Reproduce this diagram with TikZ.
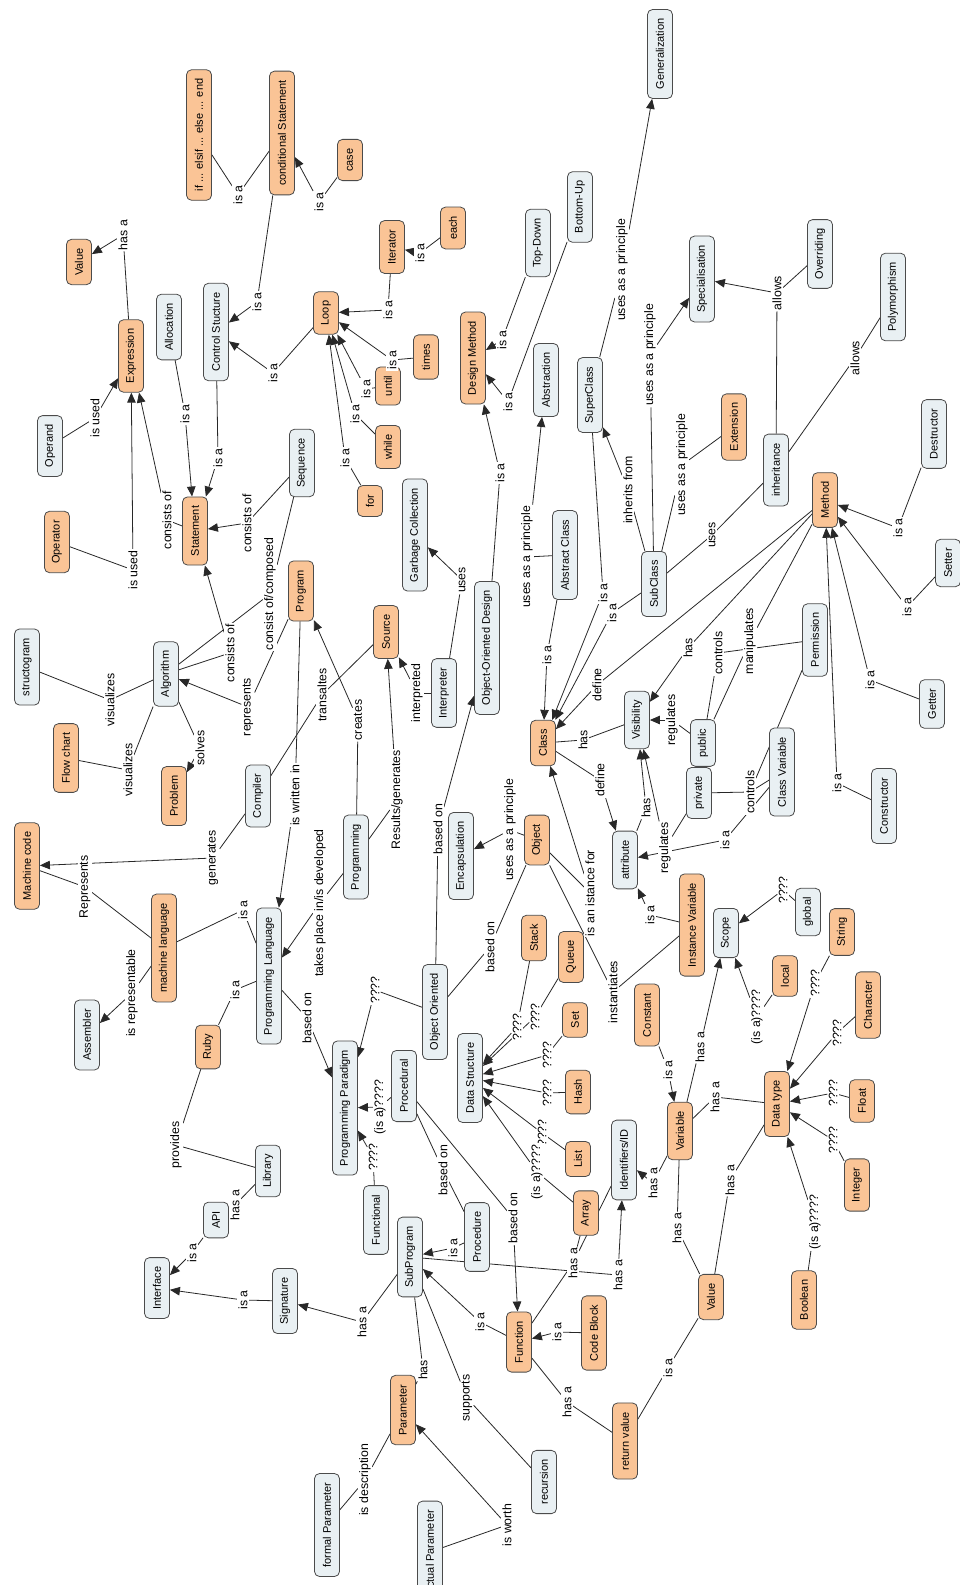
\documentclass[tikz,border=0pt]{standalone}
\usepackage{fontspec}
\setmainfont{Liberation Sans}
\usetikzlibrary{arrows.meta}
\pgfdeclarelayer{background}
\pgfdeclarelayer{canvas}
\pgfsetlayers{canvas,background,main}
\definecolor{cOr}{RGB}{250,196,150}
\definecolor{cBl}{RGB}{233,240,243}
\definecolor{cBd}{RGB}{75,75,75}
\definecolor{cLn}{RGB}{40,40,40}
\newcommand\myrel[7]{%
  \node[lab] (#1) at (#2,#3) {#4};
  \begin{pgfonlayer}{background}
  \draw[edge] (#5) -- (#1);
  \draw[edge,#7] (#1) -- (#6);
  \end{pgfonlayer}}
\begin{document}
\begin{tikzpicture}[x=1pt,y=-1pt,
  ob/.style={draw=cBd, fill=cOr, rounded corners=5pt, rotate=90,
    font=\fontsize{11}{13}\selectfont, inner xsep=9pt, inner ysep=3pt,
    minimum height=25pt, line width=0.8pt},
  bb/.style={ob, fill=cBl},
  lab/.style={rotate=90, font=\fontsize{12.3}{14}\selectfont, inner sep=1.2pt, fill=white},
  edge/.style={draw=cLn, line width=0.8pt},
  arr/.style={-{Triangle[length=10pt,width=8.5pt]}},
  noarr/.style={}]
\useasboundingbox (0,0) rectangle (960,1585);
\begin{pgfonlayer}{canvas}
\fill[white] (0,0) rectangle (960,1585);
\end{pgfonlayer}
% concepts
\node[ob] (ifelse) at (199,135) {if ... elsif ... else ... end};
\node[ob] (cond) at (282,133) {conditional Statement};
\node[ob] (case) at (350,160) {case};
\node[ob] (valA) at (79,262) {Value};
\node[ob] (expr) at (131,356) {Expression};
\node[bb] (alloc) at (169,327) {Allocation};
\node[bb] (ctrl) at (216,332) {Control Stucture};
\node[ob] (loop) at (326,313) {Loop};
\node[ob] (iter) at (392,247) {Iterator};
\node[ob] (each) at (453,228) {each};
\node[ob] (times) at (426,357) {times};
\node[ob] (until) at (388,386) {until};
\node[ob] (while) at (388,447) {while};
\node[ob] (for) at (370,501) {for};
\node[ob] (design) at (473,358) {Design Method};
\node[bb] (topdown) at (538,243) {Top-Down};
\node[bb] (bottomup) at (580,207) {Bottom-Up};
\node[bb] (abstr) at (546,380) {Abstraction};
\node[bb] (super) at (590,395) {SuperClass};
\node[bb] (gener) at (660,54) {Generalization};
\node[bb] (special) at (702,279) {Specialisation};
\node[bb] (overr) at (820,254) {Overriding};
\node[bb] (poly) at (893,297) {Polymorphism};
\node[ob] (ext) at (734,427) {Extension};
\node[bb] (inher) at (776,470) {inheritance};
\node[ob] (method) at (825,500) {Method};
\node[bb] (destr) at (934,434) {Destructor};
\node[bb] (setter) at (948,563) {Setter};
\node[bb] (sub) at (654,584) {SubClass};
\node[bb] (perm) at (815,640) {Permission};
\node[bb] (getter) at (932,704) {Getter};
\node[bb] (constr) at (884,806) {Constructor};
\node[bb] (public) at (703,743) {public};
\node[bb] (classvar) at (782,772) {Class Variable};
\node[bb] (private) at (699,793) {private};
\node[bb] (visib) at (637,720) {Visibility};
\node[ob] (class) at (543,743) {Class};
\node[bb] (abscl) at (565,555) {Abstract Class};
\node[bb] (ood) at (487,648) {Object-Oriented Design};
\node[bb] (gc) at (415,535) {Garbage Collection};
\node[bb] (interp) at (444,693) {Interpreter};
\node[ob] (source) at (386,632) {Source};
\node[ob] (program) at (301,591) {Program};
\node[ob] (stmt) at (195,531) {Statement};
\node[bb] (seq) at (302,463) {Sequence};
\node[bb] (operand) at (50,446) {Operand};
\node[ob] (operator) at (57,542) {Operator};
\node[bb] (structo) at (27,667) {structogram};
\node[bb] (algo) at (166,674) {Algorithm};
\node[ob] (flow) at (66,758) {Flow chart};
\node[ob] (problem) at (174,796) {Problem};
\node[bb] (compiler) at (258,796) {Compiler};
\node[ob] (mcode) at (27,866) {Machine code};
\node[ob] (mlang) at (164,948) {machine language};
\node[bb] (asm) at (87,1035) {Assembler};
\node[bb] (plang) at (269,976) {Programming Language};
\node[bb] (progr) at (356,857) {Programming};
\node[ob] (ruby) at (208,1047) {Ruby};
\node[bb] (lib) at (268,1171) {Library};
\node[bb] (api) at (216,1220) {API};
\node[bb] (iface) at (157,1288) {Interface};
\node[bb] (sig) at (285,1301) {Signature};
\node[bb] (subp) at (410,1257) {SubProgram};
\node[bb] (proc) at (477,1237) {Procedure};
\node[bb] (functional) at (376,1220) {Functional};
\node[ob] (func) at (519,1342) {Function};
\node[ob] (array) at (586,1213) {Array};
\node[ob] (code) at (594,1333) {Code Block};
\node[ob] (retval) at (625,1441) {return value};
\node[ob] (param) at (403,1410) {Parameter};
\node[bb] (recur) at (544,1482) {recursion};
\node[bb] (formal) at (327,1525) {formal Parameter};
\node[bb] (actual) at (430,1552) {actual Parameter};
\node[bb] (encap) at (461,856) {Encapsulation};
\node[ob] (object) at (537,840) {Object};
\node[bb] (oo) at (435,1012) {Object Oriented};
\node[bb] (paradigm) at (345,1108) {Programming Paradigm};
\node[bb] (procedural) at (404,1086) {Procedural};
\node[bb] (ds) at (470,1078) {Data Structure};
\node[ob] (stack) at (534,938) {Stack};
\node[ob] (queue) at (571,957) {Queue};
\node[ob] (set) at (575,1020) {Set};
\node[ob] (hash) at (578,1092) {Hash};
\node[ob] (list) at (578,1159) {List};
\node[bb] (ident) at (624,1160) {Identifiers/ID};
\node[ob] (instvar) at (692,925) {Instance Variable};
\node[bb] (attr) at (625,860) {attribute};
\node[ob] (const) at (647,1015) {Constant};
\node[ob] (var) at (680,1131) {Variable};
\node[bb] (scope) at (726,933) {Scope};
\node[bb] (global) at (808,912) {global};
\node[ob] (local) at (785,976) {local};
\node[ob] (string) at (842,932) {String};
\node[ob] (char) at (868,1005) {Character};
\node[ob] (dtype) at (777,1104) {Data type};
\node[ob] (float) at (862,1101) {Float};
\node[ob] (integer) at (857,1185) {Integer};
\node[ob] (valB) at (711,1297) {Value};
\node[ob] (bool) at (804,1300) {Boolean};
% relations
\myrel{r1}{238}{195}{is a}{ifelse}{cond}{noarr}
\myrel{r2}{319}{202}{is a}{case}{cond}{arr}
\myrel{r3}{257}{302}{is a}{cond}{ctrl}{arr}
\myrel{r4}{273}{373}{is a}{loop}{ctrl}{arr}
\myrel{r5}{123}{235}{has a}{expr}{valA}{arr}
\myrel{r6}{95}{418}{is used}{operand}{expr}{arr}
\myrel{r7}{133}{570}{is used}{operator}{expr}{arr}
\myrel{r8}{167}{520}{consists of}{stmt}{expr}{arr}
\myrel{r9}{185}{414}{is a}{alloc}{stmt}{arr}
\myrel{r10}{218}{458}{is a}{ctrl}{stmt}{arr}
\myrel{r11}{247}{523}{consists of}{seq}{stmt}{arr}
\myrel{r12}{270}{594}{consist of/composed}{algo}{seq}{noarr}
\myrel{r13}{230}{653}{consists of}{algo}{stmt}{arr}
\myrel{r14}{248}{707}{represents}{program}{algo}{arr}
\myrel{r15}{110}{700}{visualizes}{structo}{algo}{noarr}
\myrel{r16}{128}{770}{visualizes}{flow}{algo}{noarr}
\myrel{r17}{200}{748}{solves}{algo}{problem}{arr}
\myrel{r18}{388}{310}{is a}{iter}{loop}{arr}
\myrel{r19}{420}{253}{is a}{each}{iter}{arr}
\myrel{r20}{392}{360}{is a}{times}{loop}{arr}
\myrel{r21}{366}{389}{is a}{until}{loop}{arr}
\myrel{r22}{355}{414}{is a}{while}{loop}{arr}
\myrel{r23}{345}{458}{is a}{for}{loop}{arr}
\myrel{r24}{502}{340}{is a}{topdown}{design}{arr}
\myrel{r25}{508}{402}{is a}{bottomup}{design}{arr}
\myrel{r26}{500}{473}{is a}{ood}{design}{arr}
\myrel{r27}{527}{557}{uses as a principle}{abscl}{abstr}{arr}
\myrel{r28}{547}{655}{is a}{abscl}{class}{arr}
\myrel{r29}{603}{593}{is a}{super}{class}{arr}
\myrel{r30}{612}{613}{is a}{sub}{class}{arr}
\myrel{r31}{628}{490}{inherits from}{sub}{super}{arr}
\myrel{r32}{622}{270}{uses as a principle}{super}{gener}{arr}
\myrel{r33}{650}{355}{uses as a principle}{sub}{special}{arr}
\myrel{r34}{682}{465}{uses as a principle}{sub}{ext}{noarr}
\myrel{r35}{712}{535}{uses}{sub}{inher}{noarr}
\myrel{r36}{777}{293}{allows}{inher}{special}{arr}
\begin{pgfonlayer}{background}\draw[edge] (overr) -- (r36);\end{pgfonlayer}
\myrel{r37}{855}{358}{allows}{inher}{poly}{noarr}
\myrel{r38}{898}{528}{is a}{destr}{method}{arr}
\myrel{r39}{907}{607}{is a}{setter}{method}{arr}
\myrel{r40}{870}{680}{is a}{getter}{method}{arr}
\myrel{r41}{837}{783}{is a}{constr}{method}{arr}
\myrel{r42}{688}{648}{has}{method}{visib}{arr}
\myrel{r43}{597}{685}{define}{method}{class}{arr}
\myrel{r44}{718}{653}{controls}{public}{perm}{noarr}
\myrel{r45}{750}{641}{manipulates}{public}{method}{noarr}
\myrel{r46}{672}{720}{regulates}{public}{visib}{arr}
\myrel{r47}{583}{740}{has}{class}{visib}{noarr}
\myrel{r48}{600}{780}{define}{class}{attr}{arr}
\myrel{r49}{665}{848}{regulates}{private}{visib}{arr}
\myrel{r50}{750}{792}{controls}{private}{classvar}{noarr}
\begin{pgfonlayer}{background}\draw[edge] (perm) -- (r50);\end{pgfonlayer}
\myrel{r51}{725}{840}{is a}{classvar}{attr}{arr}
\myrel{r52}{650}{915}{is a}{instvar}{attr}{arr}
\myrel{r53}{590}{893}{is an istance for}{object}{class}{arr}
\myrel{r54}{613}{992}{instantiates}{object}{instvar}{noarr}
\myrel{r55}{510}{830}{uses as a principle}{object}{encap}{arr}
\myrel{r56}{490}{947}{based on}{oo}{object}{noarr}
\myrel{r57}{438}{829}{based on}{oo}{ood}{arr}
\myrel{r58}{375}{990}{????}{oo}{paradigm}{arr}
\myrel{r59}{307}{1018}{based on}{plang}{paradigm}{arr}
\myrel{r60}{380}{1107}{(is a)????}{procedural}{paradigm}{arr}
\myrel{r61}{373}{1157}{????}{functional}{paradigm}{arr}
\myrel{r62}{443}{1170}{based on}{procedural}{proc}{noarr}
\myrel{r63}{513}{1218}{based on}{procedural}{func}{arr}
\myrel{r64}{517}{1027}{????}{stack}{ds}{arr}
\myrel{r65}{535}{1017}{????}{queue}{ds}{arr}
\myrel{r66}{547}{1055}{????}{set}{ds}{arr}
\myrel{r67}{547}{1093}{????}{hash}{ds}{arr}
\myrel{r68}{542}{1133}{????}{list}{ds}{arr}
\myrel{r69}{537}{1172}{(is a)????}{array}{ds}{arr}
\myrel{r70}{213}{858}{generates}{compiler}{mcode}{arr}
\myrel{r71}{85}{887}{Represents}{mlang}{mcode}{noarr}
\myrel{r72}{132}{993}{is representable}{mlang}{asm}{arr}
\myrel{r73}{243}{910}{is a}{mlang}{plang}{noarr}
\myrel{r74}{235}{990}{is a}{ruby}{plang}{noarr}
\myrel{r75}{295}{795}{is written in}{program}{plang}{arr}
\myrel{r76}{322}{695}{transaltes}{compiler}{source}{noarr}
\myrel{r77}{358}{720}{creates}{progr}{program}{arr}
\myrel{r78}{397}{800}{Results/generates}{progr}{source}{arr}
\myrel{r79}{320}{903}{takes place in/is developed}{progr}{plang}{arr}
\myrel{r80}{176}{1145}{provides}{ruby}{lib}{noarr}
\myrel{r81}{235}{1205}{has a}{lib}{api}{noarr}
\myrel{r82}{192}{1253}{is a}{api}{iface}{arr}
\myrel{r83}{243}{1300}{is a}{sig}{iface}{arr}
\myrel{r84}{362}{1322}{has a}{subp}{sig}{arr}
\myrel{r85}{453}{1248}{is a}{proc}{subp}{arr}
\myrel{r86}{480}{1322}{is a}{func}{subp}{arr}
\myrel{r87}{618}{1275}{has a}{subp}{ident}{arr}
\myrel{r88}{573}{1263}{has a}{func}{array}{noarr}
\begin{pgfonlayer}{background}\draw[edge] (r88) -- (ident);\end{pgfonlayer}
\myrel{r89}{557}{1332}{is a}{code}{func}{arr}
\myrel{r90}{567}{1402}{has a}{func}{retval}{noarr}
\myrel{r91}{423}{1370}{has}{subp}{param}{noarr}
\myrel{r92}{467}{1398}{supports}{subp}{recur}{noarr}
\myrel{r93}{365}{1480}{is description}{param}{formal}{noarr}
\myrel{r94}{507}{1525}{is worth}{actual}{param}{arr}
\myrel{r95}{668}{1368}{is a}{retval}{valB}{noarr}
\myrel{r96}{668}{1070}{is a}{const}{var}{arr}
\myrel{r97}{700}{1047}{has a}{var}{scope}{arr}
\myrel{r98}{783}{890}{????}{global}{scope}{arr}
\myrel{r99}{757}{1017}{(is a)????}{local}{scope}{arr}
\myrel{r100}{815}{983}{????}{string}{dtype}{arr}
\myrel{r101}{837}{1033}{????}{char}{dtype}{arr}
\myrel{r102}{833}{1093}{????}{float}{dtype}{arr}
\myrel{r103}{833}{1140}{????}{integer}{dtype}{arr}
\myrel{r104}{715}{1097}{has a}{var}{dtype}{noarr}
\myrel{r105}{653}{1183}{has a}{var}{ident}{arr}
\myrel{r106}{677}{1228}{has a}{valB}{var}{noarr}
\myrel{r107}{730}{1180}{has a}{valB}{dtype}{noarr}
\myrel{r108}{815}{1222}{(is a)????}{bool}{dtype}{arr}
\myrel{r109}{646}{808}{has}{attr}{visib}{arr}
\myrel{r110}{417}{693}{interpreted}{interp}{source}{arr}
\myrel{r111}{462}{580}{uses}{interp}{gc}{arr}
\end{tikzpicture}
\end{document}
